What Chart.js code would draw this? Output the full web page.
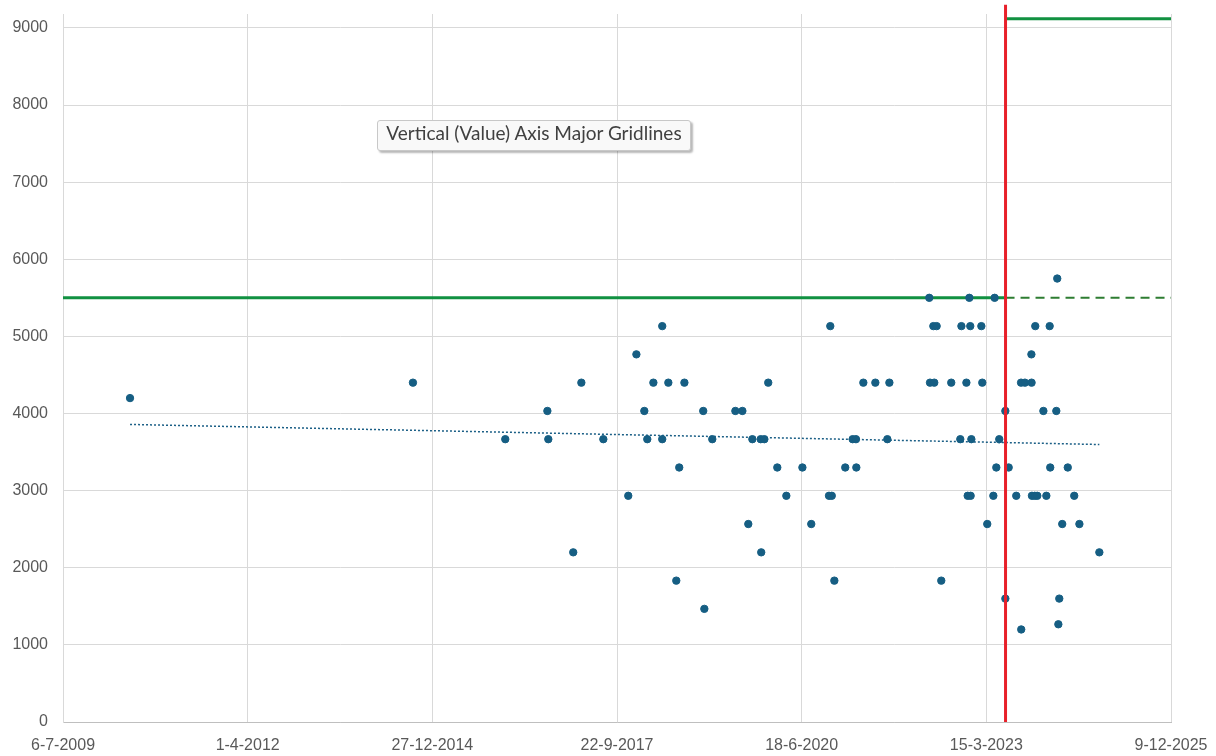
<!DOCTYPE html>
<html>
<head>
<meta charset="utf-8">
<script src="https://cdn.jsdelivr.net/npm/chart.js@4"></script>
<style>
  html, body { margin: 0; padding: 0; background: #fff; }
  #wrap { position: relative; width: 1216px; height: 756px; }
  #hint {
    position: absolute; left: 377px; top: 120px; width: 312px; height: 29px;
    line-height: 32px; white-space: nowrap; text-align: center; overflow: visible;
    font: 19px Lato, "Open Sans", sans-serif; color: #404040;
    background: #f9f9f9; border: 1px solid #c8c8c8; border-radius: 3px;
    box-shadow: 2px 2px 2px rgba(0,0,0,0.28);
  }
</style>
</head>
<body>
<div id="wrap">
  <canvas id="chart" width="1216" height="756"></canvas>
  <div id="hint">Vertical (Value) Axis Major Gridlines</div>
</div>
<script>
// x values are Excel day serials (40000 = 6-7-2009)
const dates = [
  40363, 41895, 42395, 42623, 42628, 42763, 42807, 42926, 43061, 43105,
  43148, 43164, 43197, 43245, 43245, 43278, 43321, 43337, 43365, 43467,
  43473, 43516, 43641, 43679, 43711, 43733, 43778, 43781, 43798, 43819,
  43868, 43917, 44004, 44052, 44148, 44155, 44163, 44177, 44236, 44276,
  44294, 44296, 44334, 44399, 44464, 44475, 44691, 44695, 44713, 44718,
  44731, 44756, 44810, 44859, 44865, 44892, 44899, 44908, 44913, 44915,
  44919, 44973, 44978, 45005, 45038, 45045, 45054, 45070, 45103, 45103,
  45121, 45162, 45188, 45189, 45209, 45244, 45245, 45247, 45262, 45265,
  45276, 45309, 45325, 45343, 45346, 45379, 45384, 45390, 45395, 45411,
  45441, 45476, 45504, 45612
];
const values = [
  4200, 4400, 3667, 4033, 3667, 2200, 4400, 3667, 2933, 4767,
  4033, 3667, 4400, 5133, 3667, 4400, 1833, 3300, 4400, 4033,
  1467, 3667, 4033, 4033, 2567, 3667, 3667, 2200, 3667, 4400,
  3300, 2933, 3300, 2567, 2933, 5133, 2933, 1833, 3300, 3667,
  3667, 3300, 4400, 4400, 3667, 4400, 5500, 4400, 5133, 4400,
  5133, 1833, 4400, 3667, 5133, 4400, 2933, 5500, 5133, 2933,
  3667, 5133, 4400, 2567, 2933, 5500, 3300, 3667, 4033, 1600,
  3300, 2933, 4400, 1200, 4400, 4767, 4400, 2933, 2933, 5133,
  2933, 4033, 2933, 5133, 3300, 4033, 5750, 1267, 1600, 2567,
  3300, 2933, 2567, 2200
];

// trendline ends
const trendX = [40363, 45612];
const trendY = [3858, 3598];

// reference lines
const cutDate = 45104;
const axisEnd = 46000;
const baseLevel = 5500;
const topLevel = 9120;
const redTop = 9300;

const xTicks = [40000, 41000, 42000, 43000, 44000, 45000, 46000];
const yTicks = [0, 1000, 2000, 3000, 4000, 5000, 6000, 7000, 8000, 9000];

function serialToLabel(s) {
  const d = new Date(Date.UTC(1899, 11, 30) + s * 86400000);
  return d.getUTCDate() + '-' + (d.getUTCMonth() + 1) + '-' + d.getUTCFullYear();
}

const pts = (xs, ys) => xs.map((x, i) => ({ x: x, y: ys[i] }));

const font = { family: '"Liberation Sans", Arial, sans-serif', size: 16 };

new Chart(document.getElementById('chart'), {
  type: 'scatter',
  data: {
    datasets: [
      {
        // red cut-off marker
        type: 'line',
        data: pts([cutDate, cutDate], [0, redTop]),
        borderColor: '#e8202a',
        borderWidth: 3,
        pointRadius: 0,
        clip: false
      },
      {
        data: pts(dates, values),
        backgroundColor: '#165e83',
        borderColor: '#165e83',
        pointRadius: 3.7,
        pointHoverRadius: 3.7
      },
      {
        type: 'line',
        data: pts(trendX, trendY),
        borderColor: '#1b5f86',
        borderWidth: 1.5,
        borderDash: [2, 2],
        pointRadius: 0
      },
      {
        type: 'line',
        data: pts([40000, cutDate], [baseLevel, baseLevel]),
        borderColor: '#119141',
        borderWidth: 3,
        pointRadius: 0
      },
      {
        type: 'line',
        data: pts([cutDate, axisEnd], [baseLevel, baseLevel]),
        borderColor: '#2e7d32',
        borderWidth: 2,
        borderDash: [9, 6],
        pointRadius: 0
      },
      {
        type: 'line',
        data: pts([cutDate, axisEnd], [topLevel, topLevel]),
        borderColor: '#119141',
        borderWidth: 3,
        pointRadius: 0
      }
    ]
  },
  options: {
    responsive: false,
    animation: false,
    events: [],
    layout: { padding: { top: 14, right: 45, left: 0, bottom: 0 } },
    plugins: { legend: { display: false }, tooltip: { enabled: false } },
    scales: {
      x: {
        type: 'linear',
        min: xTicks[0],
        max: xTicks[xTicks.length - 1],
        afterBuildTicks: (scale) => { scale.ticks = xTicks.map(v => ({ value: v })); },
        afterFit: (scale) => {
          scale.height = 34;
          scale.paddingLeft = 0;
          scale.paddingRight = 0;
        },
        grid: { color: '#d9d9d9', drawTicks: false },
        border: { color: '#bfbfbf' },
        ticks: {
          font: font, color: '#595959', padding: 14, maxRotation: 0,
          callback: (v) => serialToLabel(v)
        }
      },
      y: {
        min: 0,
        max: 9180,
        afterBuildTicks: (scale) => { scale.ticks = yTicks.map(v => ({ value: v })); },
        afterFit: (scale) => {
          scale.width = 63;
          scale.paddingTop = 0;
          scale.paddingBottom = 0;
        },
        grid: { color: '#d9d9d9', drawTicks: false },
        border: { color: '#d9d9d9' },
        ticks: { font: font, color: '#595959', padding: 15, callback: (v) => String(v) }
      }
    }
  }
});
</script>
</body>
</html>
